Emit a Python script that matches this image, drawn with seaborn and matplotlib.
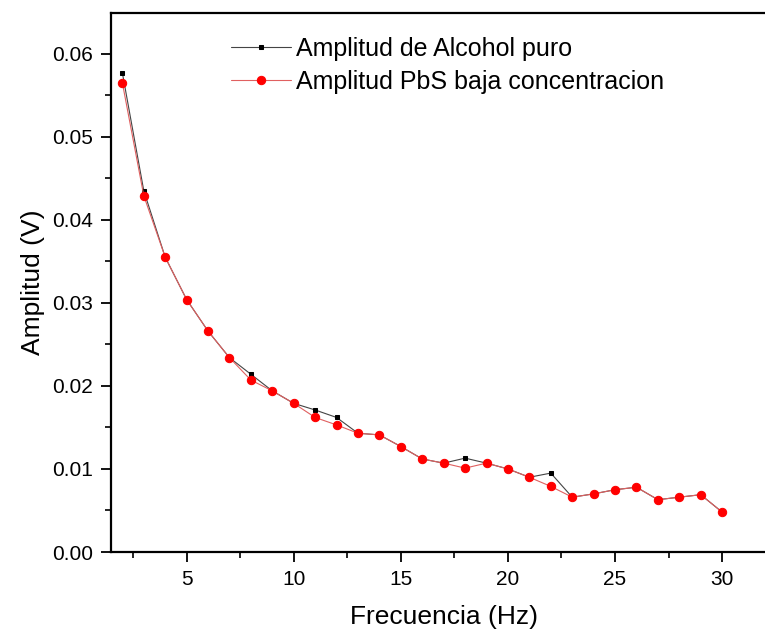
import matplotlib
matplotlib.use("Agg")
import matplotlib.pyplot as plt
from matplotlib.ticker import MultipleLocator, FormatStrFormatter
import seaborn as sns
import pandas as pd

frecuencia = list(range(2, 31))
alcohol = [0.0577, 0.0435, 0.0355, 0.0304, 0.0266, 0.0234, 0.0214, 0.0194, 0.0179,
           0.0171, 0.0162, 0.0143, 0.0141, 0.0127, 0.0112, 0.0107, 0.0113, 0.0107,
           0.0100, 0.0090, 0.0095, 0.0066, 0.0070, 0.0075, 0.0078, 0.0063, 0.0066,
           0.0069, 0.0048]
pbs = [0.0565, 0.0429, 0.0355, 0.0304, 0.0266, 0.0234, 0.0207, 0.0194, 0.0179,
       0.0162, 0.0153, 0.0143, 0.0141, 0.0127, 0.0112, 0.0107, 0.0101, 0.0107,
       0.0100, 0.0090, 0.0079, 0.0066, 0.0070, 0.0075, 0.0078, 0.0063, 0.0066,
       0.0069, 0.0048]
label_alcohol = "Amplitud de Alcohol puro"
label_pbs = "Amplitud PbS baja concentracion"

df = pd.DataFrame({"f": frecuencia, "alcohol": alcohol, "pbs": pbs})

sns.set_theme(style="ticks")
plt.rcParams["font.family"] = ["Liberation Sans", "DejaVu Sans"]
plt.rcParams["text.color"] = "black"
plt.rcParams["axes.labelcolor"] = "black"

fig = plt.figure(figsize=(7.65, 6.35), dpi=100)
ax = fig.add_axes([111 / 765, 1 - 552 / 635, 1 - 111 / 765, (552 - 13) / 635])

sns.lineplot(data=df, x="f", y="alcohol", ax=ax, color="#444444", linewidth=0.8,
             marker="s", markersize=3, markerfacecolor="black", markeredgecolor="black",
             label=label_alcohol)
sns.lineplot(data=df, x="f", y="pbs", ax=ax, color="#e06060", linewidth=0.8,
             marker="o", markersize=6, markerfacecolor="#ff0000", markeredgecolor="#ff0000",
             label=label_pbs)

ax.set_xlim(1.47, 32.0)
ax.set_ylim(0, 0.0649)
ax.xaxis.set_major_locator(MultipleLocator(5))
ax.xaxis.set_minor_locator(MultipleLocator(2.5))
ax.yaxis.set_major_locator(MultipleLocator(0.01))
ax.yaxis.set_minor_locator(MultipleLocator(0.005))
ax.yaxis.set_major_formatter(FormatStrFormatter("%.2f"))

for s in ["left", "bottom", "top"]:
    ax.spines[s].set_linewidth(1.6)
    ax.spines[s].set_color("black")
ax.spines["right"].set_visible(False)
ax.tick_params(which="major", direction="out", length=7, width=1.3, labelsize=15,
               colors="black", pad=6)
ax.tick_params(which="minor", direction="out", length=4, width=1.2, colors="black")

ax.set_xlabel("Frecuencia (Hz)", fontsize=19)
ax.set_ylabel("Amplitud (V)", fontsize=19, labelpad=5)
ax.xaxis.set_label_coords((444 - 111) / 654, -(605 - 552) / 539)

leg = ax.legend(loc="upper left", bbox_to_anchor=(0.168, 0.974), frameon=False,
                fontsize=18, handlelength=2.4, handletextpad=0.2, labelspacing=0.35,
                borderaxespad=0)

fig.savefig("out.png", dpi=100)
